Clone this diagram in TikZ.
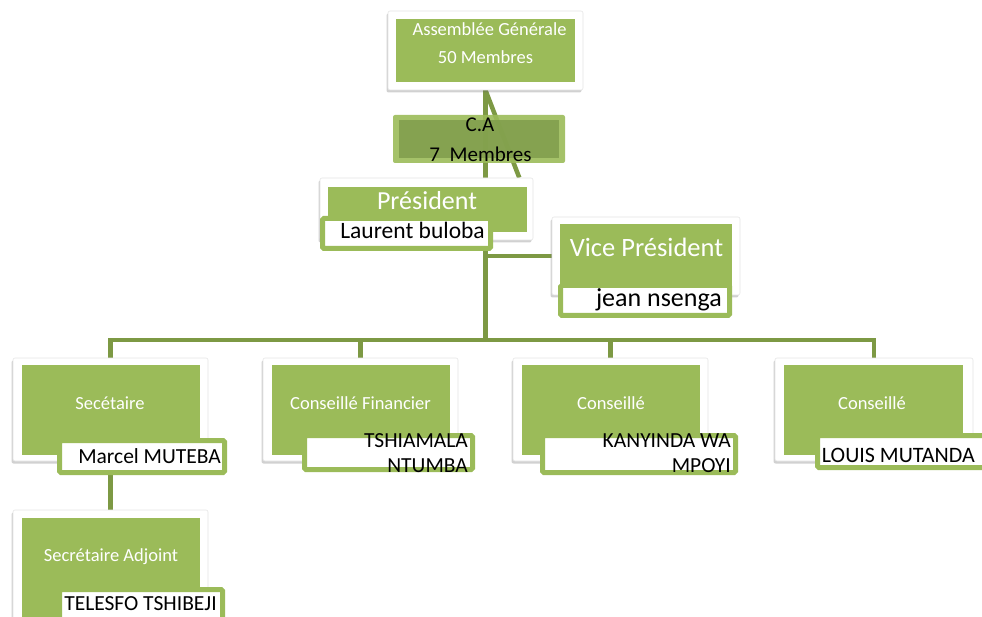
\documentclass[tikz,border=0pt]{standalone}
\usepackage{fontspec}
\setmainfont{Carlito}
\usetikzlibrary{shadows,calc}
\definecolor{gr}{RGB}{155,187,89}
\definecolor{grd}{RGB}{128,158,76}
\definecolor{ln}{RGB}{125,153,68}
\pgfdeclarelayer{bg}
\pgfsetlayers{bg,main}
\begin{document}
\begin{tikzpicture}[x=1pt,y=-1pt,
  outer/.style={fill=white, draw=black!10, line width=0.6pt, rounded corners=2pt, inner sep=0pt,
    drop shadow={shadow xshift=-1.5pt, shadow yshift=-2.5pt, opacity=0.3, fill=black!60}},
  gbox/.style={fill=gr, inner sep=0pt},
  lbl/.style={draw=gr, line width=5pt, fill=white, rounded corners=1.5pt, inner sep=0pt},
  conn/.style={draw=ln, line width=4.5pt},
  wt/.style={text=white, inner sep=0pt, anchor=base, font=\fontsize{18.5}{22}\selectfont},
  nm/.style={text=black, inner sep=0pt, anchor=base east, font=\fontsize{21.5}{25}\selectfont}]
\useasboundingbox (0,0) rectangle (982,617);
\clip (0,0) rectangle (982,617);

% Assemblee
\node[outer, minimum width=195, minimum height=79] (asm) at (485.5,50.5) {};
\node[gbox, minimum width=179, minimum height=63] (asmg) at (485.5,50.5) {};
% President
\node[outer, minimum width=213, minimum height=62] (pres) at (426.5,209) {};
\node[gbox, minimum width=199, minimum height=45] (presg) at (427.5,209.5) {};
\node[lbl, minimum width=168, minimum height=30] (presl) at (406.5,233.5) {};
% Vice President
\node[outer, minimum width=188, minimum height=78] (vp) at (646,256) {};
\node[gbox, minimum width=172, minimum height=66] (vpg) at (646,257) {};
\node[lbl, minimum width=169, minimum height=30] (vpl) at (645,300.5) {};
% Bottom row
\node[outer, minimum width=195, minimum height=103] (b1) at (110.5,409.5) {};
\node[gbox, minimum width=178, minimum height=90] (b1g) at (111,410) {};
\node[lbl, minimum width=165, minimum height=32] (b1l) at (142,456.5) {};
\node[outer, minimum width=195, minimum height=103] (b2) at (360.5,409.5) {};
\node[gbox, minimum width=178, minimum height=90] (b2g) at (361,410) {};
\node[lbl, minimum width=168, minimum height=34] (b2l) at (388.5,452.5) {};
\node[outer, minimum width=195, minimum height=103] (b3) at (610.5,409.5) {};
\node[gbox, minimum width=178, minimum height=90] (b3g) at (611,410) {};
\node[lbl, minimum width=193, minimum height=37] (b3l) at (639,454) {};
\node[outer, minimum width=198, minimum height=103] (b4) at (874,409.5) {};
\node[gbox, minimum width=179, minimum height=90] (b4g) at (873.5,410) {};
\node[lbl, minimum width=167, minimum height=32] (b4l) at (901,451.5) {};
% Adjoint
\node[outer, minimum width=195, minimum height=115] (adj) at (110.5,567.5) {};
\node[gbox, minimum width=178, minimum height=107] (adjg) at (111,571.5) {};
\node[lbl, minimum width=163, minimum height=35] (adjl) at (141,607) {};

\coordinate (busy) at (0,340);
\coordinate (pd) at ($(pres.north east)+(-14,0)$);
\begin{pgfonlayer}{bg}
\draw[conn] (asm.south) -- (asm.south |- busy);
\draw[conn] (asm.south) -- (pd);
\draw[conn] (vp.west) -- (vp.west -| asm.south);
\draw[conn] (b1.north) |- (asm.south |- busy) -| (b4.north);
\draw[conn] (b2.north) -- (b2.north |- busy);
\draw[conn] (b3.north) -- (b3.north |- busy);
\draw[conn] (b1.south) -- (adj.north);
\end{pgfonlayer}

% C.A box (semi-transparent, over connectors)
\node[fill=gr, rounded corners=2pt, inner sep=0pt, minimum width=172, minimum height=48, fill opacity=0.9] (ca) at (479,139) {};
\node[fill=grd, inner sep=0pt, minimum width=160, minimum height=38, fill opacity=0.85] (cag) at (479,139) {};

% Texts
\node[wt] (t1) at (489.5,36) {Assemblée Générale};
\node[wt] (t2) at (485.5,64) {50 Membres};
\node[anchor=base, inner sep=0pt, font=\fontsize{21}{25}\selectfont] (t3) at (480,132) {C.A};
\node[anchor=base, inner sep=0pt, font=\fontsize{21}{25}\selectfont] (t4) at (480.5,162) {7~~Membres};
\node[wt, font=\fontsize{26}{31}\selectfont] (t5) at (427,210) {Président};
\node[nm, font=\fontsize{23.5}{28}\selectfont] (t6) at (485,239) {Laurent buloba};
\node[wt, font=\fontsize{26.5}{31}\selectfont] (t7) at (646.5,257) {Vice Président};
\node[nm, font=\fontsize{26}{31}\selectfont] (t8) at (722,307) {jean nsenga};
\node[wt] (t9) at (110,409) {Secétaire};
\node[nm] (t10) at (221,463) {Marcel MUTEBA};
\node[wt] (t11) at (360.5,409) {Conseillé Financier};
\node[nm] (t12) at (468,447) {TSHIAMALA};
\node[nm] (t13) at (468,472) {NTUMBA};
\node[wt] (t14) at (611,409) {Conseillé};
\node[nm] (t15) at (731,447) {KANYINDA WA};
\node[nm] (t16) at (731,472) {MPOYI};
\node[wt] (t17) at (872,409) {Conseillé};
\node[nm, font=\fontsize{22}{26}\selectfont] (t18) at (975,462) {LOUIS MUTANDA};
\node[wt] (t19) at (111,561) {Secrétaire Adjoint};
\node[nm] (t20) at (217,610) {TELESFO TSHIBEJI};
\end{tikzpicture}
\end{document}
